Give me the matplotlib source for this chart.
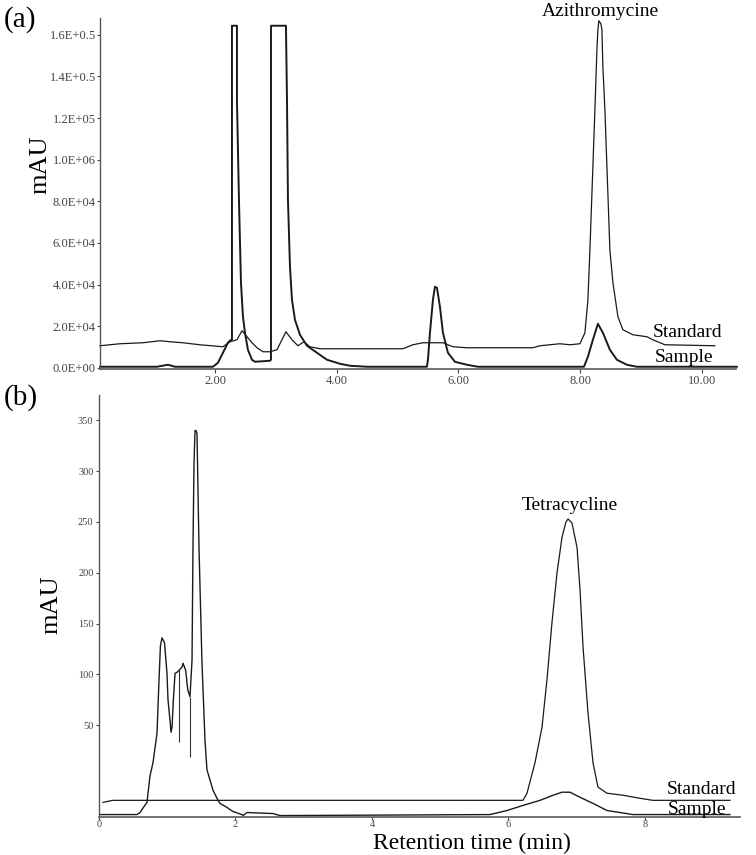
import matplotlib
matplotlib.use("Agg")
import matplotlib.pyplot as plt
# - - - - - - - - - - - - - - - - - - - - - - - - - - - - - - - - - - - - - - - - - - #
plt.rcParams['font.family'] = ['Liberation Serif', 'DejaVu Serif']
# - - - - - - - - - - - - - - - - - - - - - - - - - - - - - - - - - - - - - - - - - - #
# (a) azithromycine, time in min, signal in mAU
std_a_t = [0.111, 0.439, 0.817, 1.097, 1.261, 1.474, 1.750, 2.131, 2.246, 2.361,
           2.444, 2.526, 2.608, 2.690, 2.788, 2.903, 3.018, 3.100, 3.166, 3.265,
           3.363, 3.462, 3.560, 3.724, 5.088, 5.252, 5.416, 5.745, 5.910, 6.139,
           7.224, 7.339, 7.667, 7.832, 7.996, 8.078, 8.127, 8.160, 8.242, 8.275,
           8.291, 8.307, 8.340, 8.357, 8.373, 8.406, 8.488, 8.538, 8.620, 8.702,
           8.866, 9.096, 9.194, 9.391, 10.213]
std_a_mau = [10570, 11530, 12010, 12970, 12490, 12010, 11050, 10090, 12490, 13450,
             17780, 14900, 12010, 9610, 7690, 7690, 8650, 13450, 17300, 13450,
             10570, 12490, 10090, 9130, 9130, 11050, 12010, 12010, 10090, 9610,
             9610, 10570, 11530, 11050, 11530, 16820, 32670, 56700, 123970, 152800,
             162400, 166730, 165300, 162400, 144630, 123970, 56700, 40840, 24500, 18260,
             15860, 14900, 13450, 11050, 10570]

smp_a_t = [0.111, 1.047, 1.228, 1.343, 1.967, 2.049, 2.131, 2.180, 2.213, 2.263,
           2.279, 2.279, 2.361, 2.361, 2.394, 2.427, 2.460, 2.493, 2.541, 2.608,
           2.657, 2.903, 2.920, 2.920, 3.166, 3.183, 3.199, 3.232, 3.265, 3.314,
           3.396, 3.511, 3.675, 3.840, 4.053, 4.217, 4.496, 5.482, 5.499, 5.532,
           5.581, 5.614, 5.647, 5.696, 5.745, 5.827, 5.942, 6.139, 6.320, 8.062,
           8.127, 8.209, 8.291, 8.373, 8.488, 8.603, 8.768, 8.932, 10.574]
smp_a_mau = [480, 480, 1440, 480, 480, 2400, 7210, 10090, 12010, 13450,
             13450, 164330, 164330, 128770, 80720, 40840, 24500, 16820, 8650, 3840,
             2880, 3360, 3840, 164330, 164330, 128770, 80720, 48530, 32670, 23060,
             15860, 10570, 7210, 3840, 1920, 960, 480, 480, 3840, 16820,
             32670, 38920, 38440, 29300, 16820, 7210, 2880, 1440, 480, 480,
             5290, 13450, 21140, 16820, 8650, 3840, 1440, 480, 480]

a_xticks = [2, 4, 6, 8, 10]
a_xlabels = ["2.00", "4.00", "6.00", "8.00", "10.00"]
a_yticks = [0, 20000, 40000, 60000, 80000, 100000, 120000, 140000, 160000]
a_ylabels = ["0.0E+00", "2.0E+04", "4.0E+04", "6.0E+04", "8.0E+04",
             "1.0E+06", "1.2E+05", "1.4E+0.5", "1.6E+0.5"]
# - - - - - - - - - - - - - - - - - - - - - - - - - - - - - - - - - - - - - - - - - - #
# (b) tetracycline
std_b_t = [0.059, 0.20, 0.50, 6.212, 6.271, 6.388, 6.491, 6.564, 6.637, 6.711,
           6.784, 6.842, 6.872, 6.930, 7.004, 7.048, 7.092, 7.165, 7.238, 7.311,
           7.443, 7.678, 7.927, 8.117, 9.245]
std_b_mau = [-26, -24, -24, -24, -17, 13, 48, 95, 151, 200,
             235, 250, 253, 249, 225, 183, 127, 62, 13, -11,
             -17, -19, -22, -24, -24]

smp_b_t = [0.015, 0.557, 0.601, 0.630, 0.703, 0.747, 0.791, 0.850, 0.879, 0.900,
           0.923, 0.960, 0.996, 1.011, 1.040, 1.055, 1.070, 1.090, 1.114, 1.143,
           1.172, 1.216, 1.231, 1.270, 1.300, 1.333, 1.363, 1.377, 1.392, 1.407,
           1.421, 1.436, 1.465, 1.509, 1.553, 1.582, 1.626, 1.670, 1.729, 1.773,
           1.875, 1.963, 2.095, 2.110, 2.168, 2.549, 2.652, 5.729, 5.978, 6.212,
           6.462, 6.652, 6.784, 6.901, 7.048, 7.238, 7.443, 7.634, 7.824, 9.245]
smp_b_mau = [-38, -38, -36, -33, -26, 0, 13, 42, 94, 128,
             136, 131, 101, 75, 55, 43, 48, 75, 101, 102,
             104, 107, 111, 104, 85, 78, 114, 225, 308, 340,
             340, 337, 225, 111, 35, 6, -4, -14, -22, -27,
             -31, -35, -38, -39, -36, -37, -39, -38, -34, -29,
             -24, -19, -16, -16, -21, -27, -34, -36, -38, -38]

# integration marks drawn by the software
mark_b_t = [1.172, 1.333]
mark_b_top = [104, 78]
mark_b_bot = [33, 19]

b_xticks = [0, 2, 4, 6, 8]
b_yticks = [50, 100, 150, 200, 250, 300, 350]
# - - - - - - - - - - - - - - - - - - - - - - - - - - - - - - - - - - - - - - - - - - #
W, H = 756, 855
fig = plt.figure(figsize=(W / 100, H / 100), dpi=100)

def px(x, y):
    return x / W, 1 - y / H

ax_a = fig.add_axes([100 / W, 1 - 369 / H, 636 / W, (369 - 18.1) / H])
ax_b = fig.add_axes([99 / W, 1 - 817 / H, 641 / W, 422 / H])

for ax in (ax_a, ax_b):
    ax.spines['top'].set_visible(False)
    ax.spines['right'].set_visible(False)
    ax.spines['left'].set_color('#555555')
    ax.spines['bottom'].set_color('#666666')
    ax.spines['left'].set_linewidth(1.0)
    ax.spines['bottom'].set_linewidth(1.3)
    ax.patch.set_alpha(0)

# panel a
ax_a.plot(std_a_t, std_a_mau, color='#1a1a1a', lw=0.9, clip_on=False)
ax_a.plot(smp_a_t, smp_a_mau, color='#1a1a1a', lw=1.4, clip_on=False)
ax_a.set_xlim(0.111, 10.56)
ax_a.set_ylim(-600, 168000)
ax_a.set_xticks(a_xticks)
ax_a.set_xticklabels(a_xlabels)
ax_a.set_yticks(a_yticks)
ax_a.set_yticklabels(a_ylabels)
ax_a.tick_params(axis='y', direction='out', length=2, pad=1, labelsize=9,
                 colors='#444444')
ax_a.tick_params(axis='x', direction='out', length=3, pad=1, labelsize=9,
                 colors='#444444')

# panel b
ax_b.plot(std_b_t, std_b_mau, color='#1a1a1a', lw=0.9, clip_on=False)
ax_b.plot(smp_b_t, smp_b_mau, color='#1a1a1a', lw=1.0, clip_on=False)
for t, y0, y1 in zip(mark_b_t, mark_b_bot, mark_b_top):
    ax_b.vlines(t, y0, y1, color='#333333', lw=0.8)
ax_b.set_xlim(0, 9.392)
ax_b.set_ylim(-40.4, 375)
ax_b.set_xticks(b_xticks)
ax_b.set_yticks(b_yticks)
ax_b.tick_params(axis='y', direction='out', length=2, pad=2, labelsize=7.5,
                 colors='#444444')
ax_b.tick_params(axis='x', direction='out', length=2, pad=0.5, labelsize=7.5,
                 colors='#444444')

# text
fig.text(*px(4, 20), "(a)", fontsize=21, ha='left', va='center')
fig.text(*px(4, 398), "(b)", fontsize=21, ha='left', va='center')
fig.text(*px(40, 165), "mAU", fontsize=19, rotation=90, ha='center', va='center')
fig.text(*px(51, 605), "mAU", fontsize=19, rotation=90, ha='center', va='center')
fig.text(*px(472, 849), "Retention time (min)", fontsize=17, ha='center',
         va='baseline')
fig.text(*px(600, 12), "Azithromycine", fontsize=14, ha='center', va='center')
fig.text(*px(570, 506), "Tetracycline", fontsize=14, ha='center', va='center')
fig.text(*px(653, 332), "Standard", fontsize=14, ha='left', va='center')
fig.text(*px(655, 357), "Sample", fontsize=14, ha='left', va='center')
fig.text(*px(667, 790), "Standard", fontsize=14, ha='left', va='center')
fig.text(*px(668, 809), "Sample", fontsize=14, ha='left', va='center')

fig.savefig("out.png", dpi=100)
